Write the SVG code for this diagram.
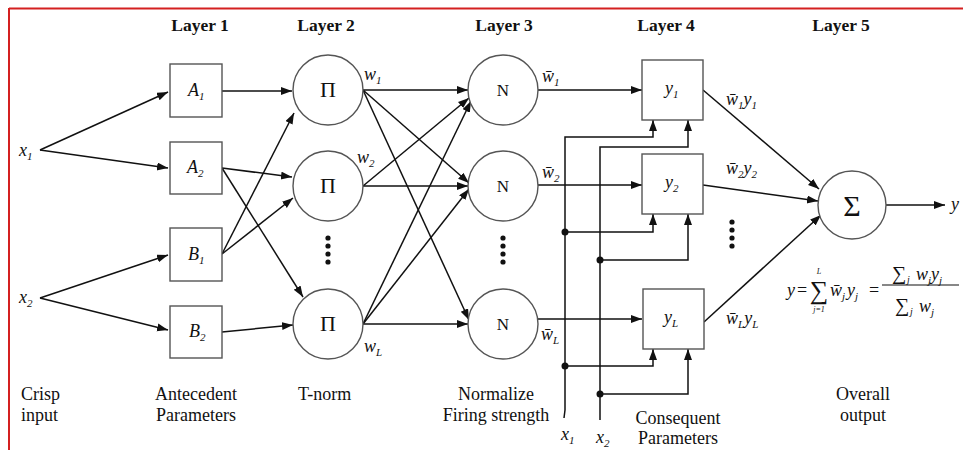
<svg xmlns="http://www.w3.org/2000/svg" width="963" height="450" viewBox="0 0 963 450">
<defs>
<marker id="ah" markerUnits="userSpaceOnUse" markerWidth="12" markerHeight="10" refX="11" refY="4" orient="auto">
<path d="M0,0 L11,4 L0,8 Z" fill="#111"/>
</marker>
<style>
text{font-family:"Liberation Serif","DejaVu Serif",serif;fill:#111}
.hd{font-size:17.5px;font-weight:bold}
.lb{font-size:18px}
.nl{font-size:18px;font-style:italic}
.it{font-style:italic}
.sb{font-size:11px}
.nd{fill:#fff;stroke:#555;stroke-width:1.4}
.cn{fill:none;stroke:#111;stroke-width:1.5}
.ar{marker-end:url(#ah)}
.dot{fill:#111}
</style>
</defs>
<rect x="0" y="0" width="963" height="450" fill="#fff"/>
<line x1="9" y1="8.5" x2="963" y2="8.5" stroke="#d42020" stroke-width="2"/>
<line x1="9" y1="8" x2="9" y2="450" stroke="#d42020" stroke-width="2"/>

<g id="headers">
<text class="hd" x="200" y="31" text-anchor="middle">Layer 1</text>
<text class="hd" x="326" y="31" text-anchor="middle">Layer 2</text>
<text class="hd" x="504" y="31" text-anchor="middle">Layer 3</text>
<text class="hd" x="666" y="31" text-anchor="middle">Layer 4</text>
<text class="hd" x="841" y="31" text-anchor="middle">Layer 5</text>
</g>

<g id="connectors">
<path class="cn ar" d="M40,150 L168,92"/>
<path class="cn ar" d="M40,150 L168,168"/>
<path class="cn ar" d="M40,298 L168,255"/>
<path class="cn ar" d="M40,298 L168,330"/>
<path class="cn ar" d="M222,91 L292,91"/>
<path class="cn ar" d="M222,168 L292,177"/>
<path class="cn ar" d="M222,168 L303,297"/>
<path class="cn ar" d="M222,254 L294,113"/>
<path class="cn ar" d="M222,254 L293,198"/>
<path class="cn ar" d="M222,332 L293,325"/>
<path class="cn ar" d="M363,90 L468,90"/>
<path class="cn ar" d="M363,90 L469,183"/>
<path class="cn ar" d="M363,90 L469,320"/>
<path class="cn ar" d="M363,186 L469,98"/>
<path class="cn ar" d="M363,186 L468,186"/>
<path class="cn ar" d="M363,324 L471,101"/>
<path class="cn ar" d="M363,324 L469,189"/>
<path class="cn ar" d="M363,324 L468,324"/>
<path class="cn ar" d="M538,90 L642,90"/>
<path class="cn ar" d="M538,185 L642,185"/>
<path class="cn ar" d="M538,319 L642,319"/>
<path class="cn ar" d="M564,418 L565,410 V137 H653 V120"/>
<path class="cn ar" d="M600,420 V147 H688 V120"/>
<path class="cn ar" d="M565,232 H653 V214"/>
<path class="cn ar" d="M600,260 H688 V214"/>
<path class="cn ar" d="M565,366 H653 V349"/>
<path class="cn ar" d="M600,394 H688 V349"/>
<circle class="dot" cx="565" cy="232" r="3.5"/>
<circle class="dot" cx="600" cy="260" r="3.5"/>
<circle class="dot" cx="565" cy="366" r="3.5"/>
<circle class="dot" cx="600" cy="394" r="3.5"/>
<path class="cn ar" d="M703,90 L819,189"/>
<path class="cn ar" d="M703,185 L818,201"/>
<path class="cn ar" d="M704,322 L821,215"/>
<path class="cn ar" d="M886,205 L945,205"/>
</g>

<g id="inputs">
<text class="nl" x="19" y="156">x<tspan class="sb" dy="4">1</tspan></text>
<text class="nl" x="19" y="303">x<tspan class="sb" dy="4">2</tspan></text>
</g>

<g id="A1"><rect class="nd" x="170" y="64" width="52" height="53"/><text class="nl" x="188" y="96">A<tspan class="sb" dy="4">1</tspan></text></g>
<g id="A2"><rect class="nd" x="170" y="142" width="52" height="52"/><text class="nl" x="187" y="173">A<tspan class="sb" dy="4">2</tspan></text></g>
<g id="B1"><rect class="nd" x="170" y="228" width="52" height="53"/><text class="nl" x="188" y="260">B<tspan class="sb" dy="4">1</tspan></text></g>
<g id="B2"><rect class="nd" x="170" y="306" width="52" height="52"/><text class="nl" x="189" y="337">B<tspan class="sb" dy="4">2</tspan></text></g>

<g id="P1"><circle class="nd" cx="328" cy="90" r="35"/><text x="328" y="97" font-size="22" text-anchor="middle">Π</text></g>
<g id="P2"><circle class="nd" cx="328" cy="186" r="35"/><text x="328" y="193" font-size="22" text-anchor="middle">Π</text></g>
<g id="P3"><circle class="nd" cx="328" cy="324" r="35"/><text x="328" y="331" font-size="22" text-anchor="middle">Π</text></g>
<g id="dots2"><circle class="dot" cx="328" cy="238" r="2.6"/><circle class="dot" cx="328" cy="246" r="2.6"/><circle class="dot" cx="328" cy="254" r="2.6"/><circle class="dot" cx="328" cy="262" r="2.6"/></g>
<g id="wlabels">
<text class="nl" x="364" y="80">w<tspan class="sb" dy="4">1</tspan></text>
<text class="nl" x="357" y="163">w<tspan class="sb" dy="4">2</tspan></text>
<text class="nl" x="364" y="352">w<tspan class="sb" dy="4">L</tspan></text>
</g>

<g id="N1"><circle class="nd" cx="503" cy="90" r="35"/><text x="503" y="96" font-size="17" text-anchor="middle">N</text></g>
<g id="N2"><circle class="nd" cx="503" cy="186" r="35"/><text x="503" y="192" font-size="17" text-anchor="middle">N</text></g>
<g id="N3"><circle class="nd" cx="503" cy="324" r="35"/><text x="503" y="330" font-size="17" text-anchor="middle">N</text></g>
<g id="dots3"><circle class="dot" cx="503" cy="238" r="2.6"/><circle class="dot" cx="503" cy="246" r="2.6"/><circle class="dot" cx="503" cy="254" r="2.6"/><circle class="dot" cx="503" cy="262" r="2.6"/></g>
<g id="wbarlabels">
<text class="nl" x="542" y="82">w̄<tspan class="sb" dy="4">1</tspan></text>
<text class="nl" x="542" y="178">w̄<tspan class="sb" dy="4">2</tspan></text>
<text class="nl" x="541" y="340">w̄<tspan class="sb" dy="4">L</tspan></text>
</g>

<g id="Y1"><rect class="nd" x="642" y="60" width="61" height="60"/><text class="nl" x="665" y="94">y<tspan class="sb" dy="4">1</tspan></text></g>
<g id="Y2"><rect class="nd" x="642" y="154" width="61" height="60"/><text class="nl" x="665" y="188">y<tspan class="sb" dy="4">2</tspan></text></g>
<g id="YL"><rect class="nd" x="643" y="289" width="61" height="60"/><text class="nl" x="664" y="323">y<tspan class="sb" dy="4">L</tspan></text></g>
<g id="dots4"><circle class="dot" cx="732" cy="222" r="2.6"/><circle class="dot" cx="732" cy="230" r="2.6"/><circle class="dot" cx="732" cy="238" r="2.6"/><circle class="dot" cx="732" cy="246" r="2.6"/></g>
<g id="wylabels">
<text class="nl" x="726" y="105">w̄<tspan class="sb" dy="4">1</tspan><tspan dy="-4">y</tspan><tspan class="sb" dy="4">1</tspan></text>
<text class="nl" x="726" y="174">w̄<tspan class="sb" dy="4">2</tspan><tspan dy="-4">y</tspan><tspan class="sb" dy="4">2</tspan></text>
<text class="nl" x="726" y="324">w̄<tspan class="sb" dy="4">L</tspan><tspan dy="-4">y</tspan><tspan class="sb" dy="4">L</tspan></text>
</g>

<g id="S"><circle class="nd" cx="852" cy="205" r="34"/><text x="852" y="216" font-size="30" text-anchor="middle">Σ</text></g>
<g id="output"><text class="nl" x="951" y="210">y</text></g>

<g id="formula">
<text class="it" x="787" y="296" font-size="18">y</text>
<text x="797" y="296" font-size="18">=</text>
<text x="819" y="299" font-size="26" text-anchor="middle">∑</text>
<text class="it" x="819" y="274" font-size="8" text-anchor="middle">L</text>
<text class="it" x="819" y="312" font-size="8" text-anchor="middle">j=1</text>
<text class="it" x="830" y="296" font-size="18">w̄<tspan class="sb" dy="4">j</tspan><tspan dy="-4" dx="2">y</tspan><tspan class="sb" dy="4">j</tspan></text>
<text x="869" y="296" font-size="18">=</text>
<line x1="882" y1="285" x2="959" y2="285" stroke="#111" stroke-width="1.2"/>
<text x="892" y="280" font-size="20">∑</text>
<text class="it" x="907" y="283" font-size="10">j</text>
<text class="it" x="916" y="280" font-size="18">w<tspan class="sb" dy="4">j</tspan><tspan dy="-4">y</tspan><tspan class="sb" dy="4">j</tspan></text>
<text x="895" y="312" font-size="20">∑</text>
<text class="it" x="910" y="315" font-size="10">j</text>
<text class="it" x="919" y="312" font-size="18">w<tspan class="sb" dy="4">j</tspan></text>
</g>

<g id="captions">
<text class="lb" x="21" y="400">Crisp</text>
<text class="lb" x="21" y="421">input</text>
<text class="lb" x="155" y="400">Antecedent</text>
<text class="lb" x="156" y="421">Parameters</text>
<text class="lb" x="298" y="400">T-norm</text>
<text class="lb" x="496" y="400" text-anchor="middle">Normalize</text>
<text class="lb" x="496" y="421" text-anchor="middle">Firing strength</text>
<text class="nl" x="561" y="440">x<tspan class="sb" dy="4">1</tspan></text>
<text class="nl" x="596" y="443">x<tspan class="sb" dy="4">2</tspan></text>
<text class="lb" x="678" y="424" text-anchor="middle">Consequent</text>
<text class="lb" x="678" y="444" text-anchor="middle">Parameters</text>
<text class="lb" x="863" y="400" text-anchor="middle">Overall</text>
<text class="lb" x="863" y="421" text-anchor="middle">output</text>
</g>
</svg>
